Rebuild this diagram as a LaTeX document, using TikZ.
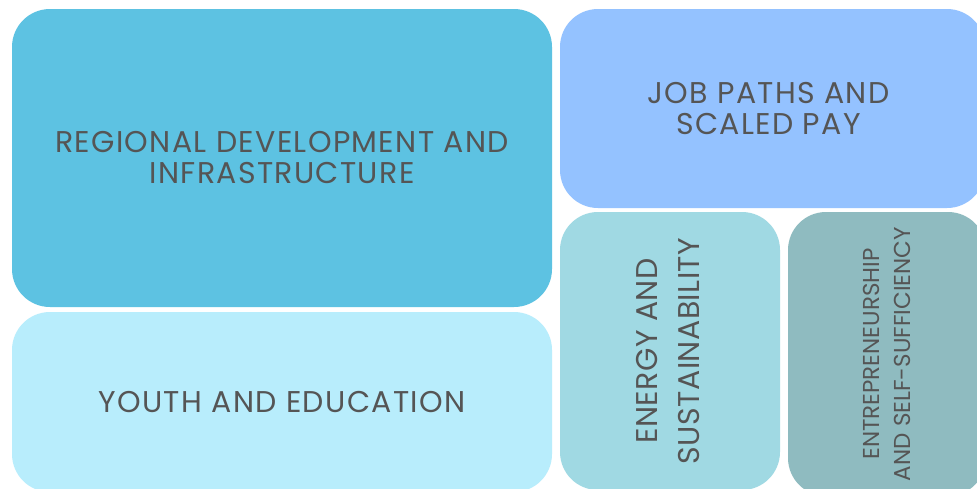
\documentclass[tikz,border=0pt]{standalone}
\usepackage{fontspec}
\setmainfont{Poppins}
\definecolor{cRegion}{HTML}{5DC2E2}
\definecolor{cYouth}{HTML}{B8EDFC}
\definecolor{cJob}{HTML}{94C2FF}
\definecolor{cEnergy}{HTML}{A0D9E3}
\definecolor{cEntre}{HTML}{8FBBC0}
\definecolor{cText}{HTML}{555555}
\begin{document}
\begin{tikzpicture}[x=1pt,y=-1pt,
  tile/.style={rounded corners=38pt, inner sep=0pt, draw=none, text=cText, align=center},
  bigtext/.style={font=\fontsize{30}{31}\selectfont\addfontfeature{LetterSpace=4.5}},
  rottext/.style={font=\fontsize{30}{42}\selectfont\addfontfeature{LetterSpace=1.5}},
  smalltext/.style={font=\fontsize{23}{31}\selectfont}]
\useasboundingbox (0,0) rectangle (977,488);
\clip (0,0) rectangle (977,488);
\fill[white] (0,0) rectangle (977,488);
\node[tile, fill=cRegion, minimum width=540pt, minimum height=298pt, bigtext] (region) at (282,158) {REGIONAL DEVELOPMENT AND\\INFRASTRUCTURE};
\node[tile, fill=cYouth, minimum width=540pt, minimum height=180pt, bigtext] (youth) at (282,402) {YOUTH AND EDUCATION};
\node[tile, fill=cJob, minimum width=425pt, minimum height=199pt] (job) at (772.5,108.5) {};
\node[text=cText, align=center, bigtext, xshift=-4pt] (jobtext) at (job.center) {JOB PATHS AND\\SCALED PAY};
\node[tile, fill=cEnergy, minimum width=220pt, minimum height=278pt] (energy) at (670,351) {};
\node[rotate=90, text=cText, align=center, rottext, yshift=2pt] (energytext) at (energy.center) {ENERGY AND\\SUSTAINABILITY};
\node[tile, fill=cEntre, minimum width=198pt, minimum height=284pt] (entre) at (887,354) {};
\node[rotate=90, text=cText, align=center, smalltext] (entretext) at (entre.center) {ENTREPRENEURSHIP\\AND SELF-SUFFICIENCY};
\end{tikzpicture}
\end{document}
